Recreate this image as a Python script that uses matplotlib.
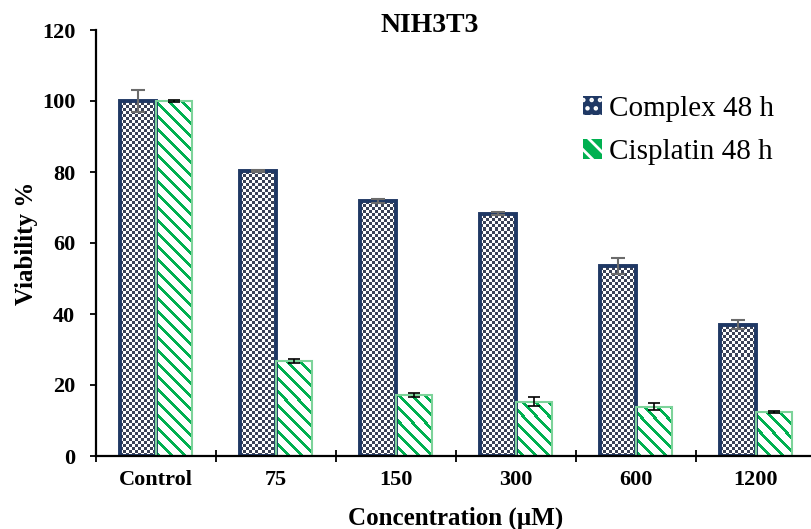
import matplotlib

matplotlib.use("Agg")
import matplotlib.pyplot as plt
import numpy as np
from matplotlib.colors import ListedColormap
from matplotlib.patches import Patch

# data
categories = ["Control", "75", "150", "300", "600", "1200"]
complex_48h = [100.0, 80.2, 71.8, 68.3, 53.5, 37.0]
complex_err = [3.0, 0.3, 0.6, 0.3, 2.2, 1.2]
cisplatin_48h = [100.0, 26.8, 17.2, 15.3, 13.9, 12.4]
cisplatin_err = [0.3, 0.5, 0.5, 1.2, 0.9, 0.3]

NAVY = "#1f3864"
CHECK_DARK = "#3b4257"
GREEN = "#00b050"
GREEN_EDGE = "#7dd39a"
SERIF = "Liberation Serif"

W, H = 811, 529
DPI = 100
plt.rcParams["font.family"] = SERIF
plt.rcParams["hatch.linewidth"] = 2.0

fig = plt.figure(figsize=(W / DPI, H / DPI), dpi=DPI)
# axes box in pixels: left 96, bottom at y=456, 120 at y=30; runs past right edge
ax_l, ax_b, ax_w, ax_h = 96, H - 456, 720, 426
ax = fig.add_axes([ax_l / W, ax_b / H, ax_w / W, ax_h / H])

x = np.arange(len(categories))
bw = 0.3
XLIM = (-0.5, len(categories) - 0.5)
YLIM = (0, 120)

# pixel textures covering the whole axes, clipped to each bar later
rr, cc = np.mgrid[0:ax_h, 0:ax_w]
checker = ((rr // 3 + cc // 3) % 2).astype(float)
stripes = (((cc - rr) % 13) < 4).astype(float)
checker_cmap = ListedColormap(["white", CHECK_DARK])
stripe_cmap = ListedColormap(["white", GREEN])


def textured_bars(xpos, vals, tex, cmap, edge, lw):
    bars = ax.bar(xpos, vals, bw, color="white", edgecolor="none", zorder=1)
    for b in bars:
        im = ax.imshow(tex, cmap=cmap, extent=(*XLIM, *YLIM), aspect="auto",
                       interpolation="nearest", origin="upper", zorder=1.5)
        im.set_clip_path(b)
    ax.bar(xpos, vals, bw, fill=False, edgecolor=edge, linewidth=lw, zorder=2)


textured_bars(x - bw / 2, complex_48h, checker, checker_cmap, NAVY, 2.8)
textured_bars(x + bw / 2, cisplatin_48h, stripes, stripe_cmap, GREEN_EDGE, 1.5)

ax.errorbar(x - bw / 2, complex_48h, yerr=complex_err, fmt="none",
            ecolor="#6b6b6b", elinewidth=1.5, capsize=5, capthick=1.5, zorder=3)
ax.errorbar(x + bw / 2, cisplatin_48h, yerr=cisplatin_err, fmt="none",
            ecolor="black", elinewidth=1.2, capsize=4, capthick=1.2, zorder=3)

ax.set_xlim(*XLIM)
ax.set_ylim(*YLIM)

# x: ticks at category boundaries, labels centred under the groups
ax.set_xticks(np.arange(len(categories) + 1) - 0.5)
ax.set_xticklabels([])
ax.set_xticks(x, minor=True)
ax.set_xticklabels(categories, minor=True, fontsize=16, fontweight="bold")
ax.tick_params(axis="x", which="major", direction="inout", length=9, width=1.3)
ax.tick_params(axis="x", which="minor", length=0, pad=10)
ax.set_yticks(np.arange(0, 121, 20))
ax.tick_params(axis="y", direction="out", length=4, width=1.3, pad=11,
               labelsize=16)
for t in ax.get_yticklabels():
    t.set_fontweight("bold")

for s in ("top", "right"):
    ax.spines[s].set_visible(False)
for s in ("left", "bottom"):
    ax.spines[s].set_linewidth(1.6)

ax.set_ylabel("Viability %", fontsize=18, fontweight="bold", labelpad=3)
ax.set_xlabel("Concentration (µM)", fontsize=18, fontweight="bold", labelpad=12)
fig.text(430 / W, 1 - 25 / H, "NIH3T3", ha="center", va="center",
         fontsize=20, fontweight="bold")

handles = [
    Patch(facecolor=NAVY, edgecolor="white", linewidth=0, hatch="..",
          label="Complex 48 h"),
    Patch(facecolor=GREEN, edgecolor="white", linewidth=0, hatch="\\\\",
          label="Cisplatin 48 h"),
]
ax.legend(handles=handles, loc="upper left", bbox_to_anchor=(571 / W, 1 - 84 / H),
          bbox_transform=fig.transFigure, frameon=False, fontsize=21,
          handlelength=0.65, handleheight=0.65, handletextpad=0.25,
          labelspacing=0.6, borderaxespad=0)

fig.savefig("out.png", dpi=DPI)
